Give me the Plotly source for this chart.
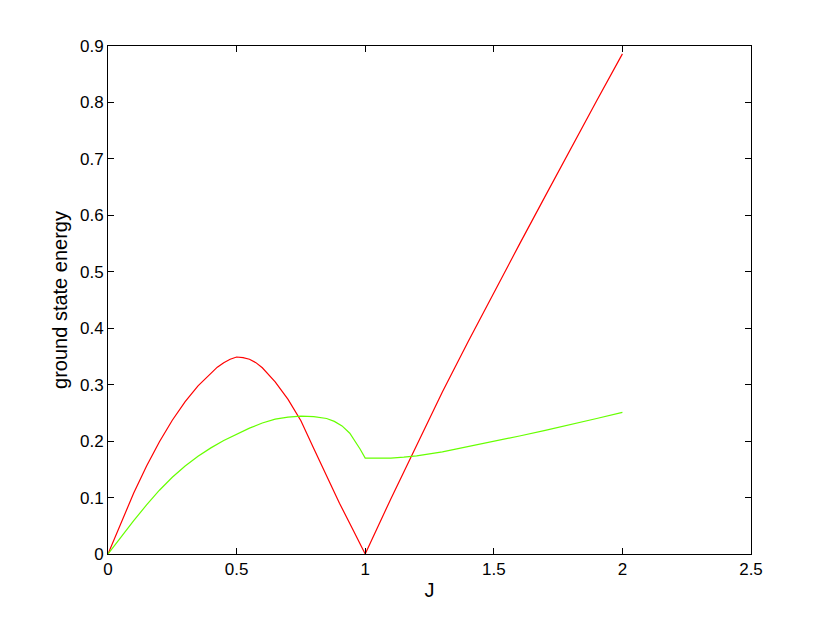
import plotly.graph_objects as go

# red curve
j_red = [0.0, 0.05, 0.1, 0.15, 0.2, 0.25, 0.3, 0.35, 0.4, 0.425, 0.45, 0.475, 0.5,
         0.525, 0.55, 0.575, 0.6, 0.65, 0.7, 0.75, 0.8, 0.85, 0.9, 0.95, 1.0,
         1.1, 1.2, 1.3, 1.4, 1.5, 1.6, 1.7, 1.8, 1.9, 2.0]
e_red = [0.0, 0.055, 0.108, 0.156, 0.199, 0.237, 0.270, 0.298, 0.321, 0.331, 0.339, 0.345, 0.349,
         0.348, 0.345, 0.339, 0.330, 0.305, 0.274, 0.236, 0.187, 0.138, 0.090, 0.045, 0.0,
         0.098, 0.194, 0.287, 0.376, 0.463, 0.549, 0.634, 0.719, 0.803, 0.886]

# green curve
j_green = [0.0, 0.05, 0.1, 0.15, 0.2, 0.25, 0.3, 0.35, 0.4, 0.45, 0.5,
           0.55, 0.6, 0.65, 0.7, 0.75, 0.8, 0.85, 0.88, 0.91, 0.94, 0.96, 0.98, 1.0,
           1.05, 1.1, 1.15, 1.2, 1.3, 1.4, 1.5, 1.6, 1.7, 1.8, 1.9, 2.0]
e_green = [0.0, 0.030, 0.059, 0.087, 0.113, 0.136, 0.156, 0.173, 0.188, 0.201, 0.212,
           0.223, 0.232, 0.239, 0.2425, 0.2443, 0.2435, 0.240, 0.235, 0.227, 0.214, 0.201, 0.186, 0.170,
           0.1697, 0.170, 0.1715, 0.174, 0.181, 0.190, 0.199, 0.209, 0.219, 0.229, 0.240, 0.251]

x_ticks = [0, 0.5, 1, 1.5, 2, 2.5]
x_labels = ["0", "0.5", "1", "1.5", "2", "2.5"]
y_ticks = [0, 0.1, 0.2, 0.3, 0.4, 0.5, 0.6, 0.7, 0.8, 0.9]
y_labels = ["0", "0.1", "0.2", "0.3", "0.4", "0.5", "0.6", "0.7", "0.8", "0.9"]

fig = go.Figure()
fig.add_trace(go.Scatter(x=j_red, y=e_red, mode='lines',
                         line=dict(color='#ff0000', width=1.2)))
fig.add_trace(go.Scatter(x=j_green, y=e_green, mode='lines',
                         line=dict(color='#66ff00', width=1.2)))

axis_style = dict(showline=True, linecolor='black', linewidth=1, mirror='ticks',
                  ticks='inside', ticklen=6, tickcolor='black', showgrid=False,
                  zeroline=False, tickfont=dict(size=17, color='black'))

# page body has an 8px default margin, so margins are shifted to compensate
fig.update_layout(
    width=830, height=625,
    paper_bgcolor='white', plot_bgcolor='white',
    font=dict(family='Liberation Sans, Arial, sans-serif', size=17, color='black'),
    showlegend=False,
    margin=dict(l=100, r=87, t=38, b=79),
    xaxis=dict(range=[0, 2.5], tickvals=x_ticks, ticktext=x_labels,
               title=dict(text='J', standoff=4), **axis_style),
    yaxis=dict(range=[0, 0.9], tickvals=y_ticks, ticktext=y_labels,
               title=dict(text='ground state energy', standoff=6), **axis_style),
)

fig.write_html("out.html")
